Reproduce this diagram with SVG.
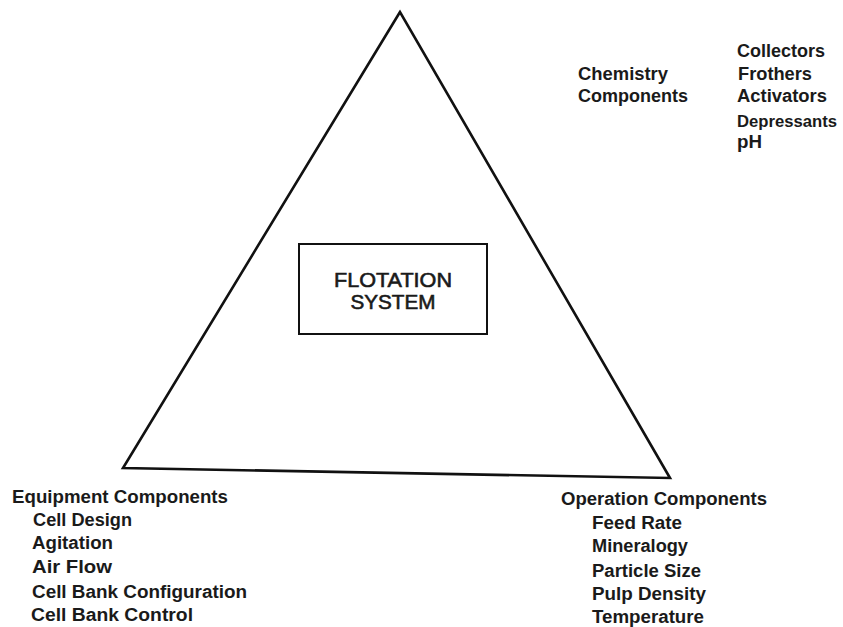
<svg xmlns="http://www.w3.org/2000/svg" width="843" height="627" viewBox="0 0 843 627">
<style>
.t{font-family:"Liberation Sans",Arial,sans-serif;font-weight:bold;font-size:18px;fill:#1a1a1a}
.b{font-family:"Liberation Sans",Arial,sans-serif;font-size:20px;fill:#1a1a1a;stroke:#1a1a1a;stroke-width:0.6;text-anchor:middle}
.s{fill:none;stroke:#111;stroke-linejoin:miter}
</style>
<rect width="843" height="627" fill="#fff"/>
<g id="connectors">
<polygon class="s" stroke-width="2.6" points="400,12 123,468 670,478"/>
</g>
<g id="flotation-system">
<rect class="s" stroke-width="2" x="299" y="244" width="188" height="90"/>
<text class="b" x="393" y="287" textLength="118" lengthAdjust="spacingAndGlyphs">FLOTATION</text>
<text class="b" x="393" y="309" textLength="85" lengthAdjust="spacingAndGlyphs">SYSTEM</text>
</g>
<g id="chemistry">
<text class="t" x="578" y="80" textLength="90" lengthAdjust="spacingAndGlyphs">Chemistry</text>
<text class="t" x="578" y="102" textLength="110" lengthAdjust="spacingAndGlyphs">Components</text>
<text class="t" x="737" y="57" textLength="88" lengthAdjust="spacingAndGlyphs">Collectors</text>
<text class="t" x="738" y="80" textLength="74" lengthAdjust="spacingAndGlyphs">Frothers</text>
<text class="t" x="737" y="102" textLength="90" lengthAdjust="spacingAndGlyphs">Activators</text>
<text class="t" x="737" y="127" style="font-size:16.5px" textLength="100" lengthAdjust="spacingAndGlyphs">Depressants</text>
<text class="t" x="737" y="148" textLength="25" lengthAdjust="spacingAndGlyphs">pH</text>
</g>
<g id="equipment">
<text class="t" x="12" y="503" textLength="216" lengthAdjust="spacingAndGlyphs">Equipment Components</text>
<text class="t" x="33" y="526" textLength="99" lengthAdjust="spacingAndGlyphs">Cell Design</text>
<text class="t" x="32" y="549" textLength="81" lengthAdjust="spacingAndGlyphs">Agitation</text>
<text class="t" x="32" y="573" textLength="80" lengthAdjust="spacingAndGlyphs">Air Flow</text>
<text class="t" x="32" y="598" textLength="215" lengthAdjust="spacingAndGlyphs">Cell Bank Configuration</text>
<text class="t" x="31" y="621" textLength="162" lengthAdjust="spacingAndGlyphs">Cell Bank Control</text>
</g>
<g id="operation">
<text class="t" x="561" y="505" textLength="206" lengthAdjust="spacingAndGlyphs">Operation Components</text>
<text class="t" x="592" y="529" textLength="90" lengthAdjust="spacingAndGlyphs">Feed Rate</text>
<text class="t" x="592" y="552" textLength="96" lengthAdjust="spacingAndGlyphs">Mineralogy</text>
<text class="t" x="592" y="577" textLength="109" lengthAdjust="spacingAndGlyphs">Particle Size</text>
<text class="t" x="592" y="600" textLength="114" lengthAdjust="spacingAndGlyphs">Pulp Density</text>
<text class="t" x="592" y="623" textLength="112" lengthAdjust="spacingAndGlyphs">Temperature</text>
</g>
</svg>
